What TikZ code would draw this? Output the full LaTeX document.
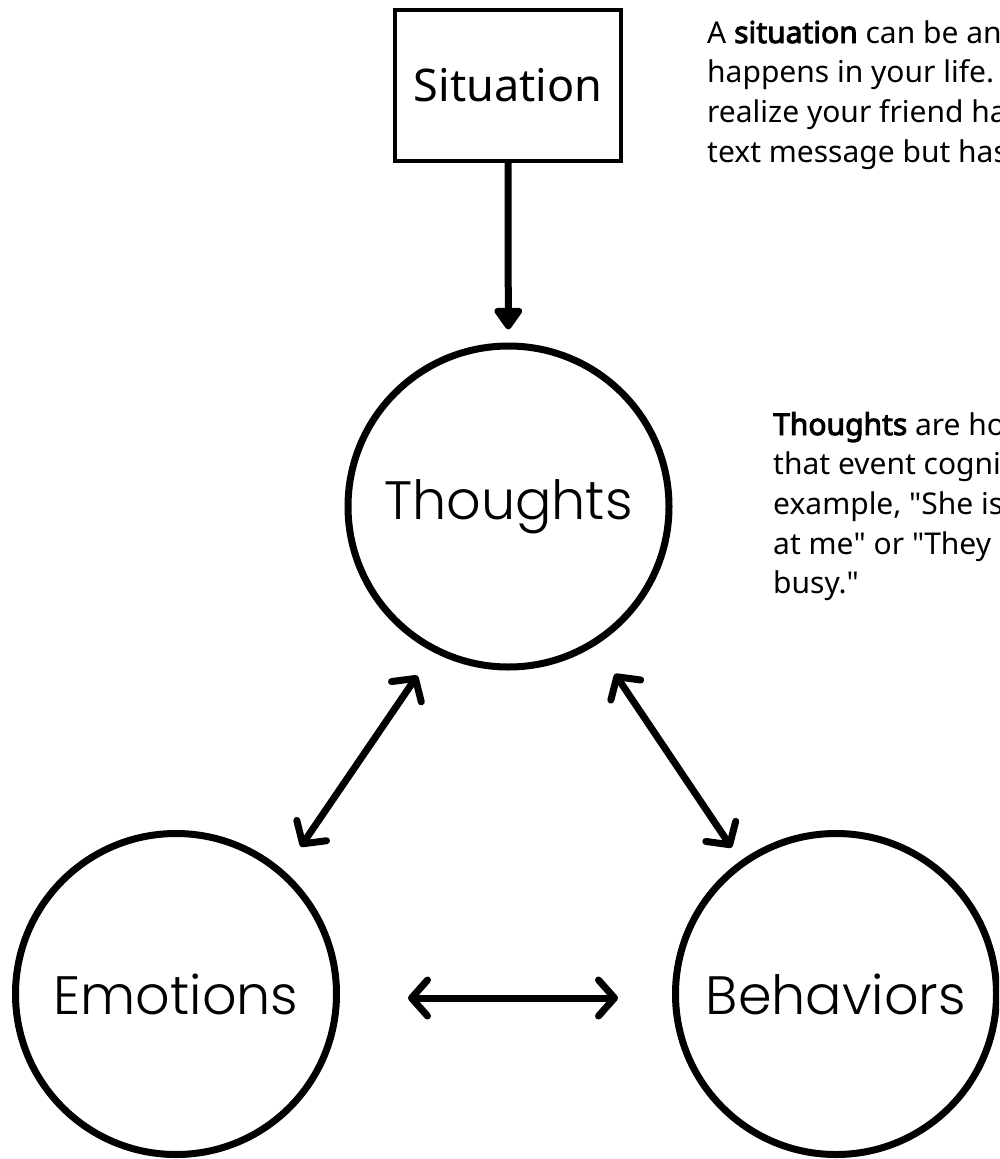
\documentclass[tikz,border=0pt]{standalone}
\usepackage{fontspec}
\setmainfont{Noto Sans}[BoldFont={Noto Sans},BoldFeatures={FakeBold=3.2}]
\newfontfamily\roundfont{Poppins Light}
\usetikzlibrary{arrows.meta,calc,positioning}

\begin{document}
\begin{tikzpicture}
  [
  x=1pt,y=1pt,
  stage/.style={circle,draw,line width=7pt,minimum size=321pt,inner sep=0pt,font=\roundfont\fontsize{54}{60}\selectfont},
  event/.style={rectangle,draw,line width=4pt,minimum width=226pt,minimum height=151pt,inner sep=0pt,font=\fontsize{45}{50}\selectfont},
  note/.style={anchor=north west,align=left,inner sep=0pt,font=\fontsize{30}{39.7}\selectfont},
  oneway/.style={-{Triangle[length=24pt,width=32pt,round]},line width=7pt},
  twoway/.style={{Straight Barb[length=16pt,width=36pt,round]}-{Straight Barb[length=16pt,width=36pt,round]},line width=7pt,line cap=round}
  ]
  \useasboundingbox (0,0) rectangle (999,-1159);
  \clip (0,0) rectangle (999,-1159);
  \node[event] (situation) at (508,-85.5) {Situation};
  \node[stage] (thoughts) at (508.5,-506.5) {Thoughts};
  \node[stage] (emotions) at (176,-994) {Emotions};
  \node[stage] (behaviors) at (836,-994) {Behaviors};
  % notes, cut by the right edge
  \node[note] (situation text) at (707,-20)
    {A \textbf{situation} can be an\\happens in your life.\\realize your friend has\\text message but has};
  \node[note] (thoughts text) at (773,-412)
    {\textbf{Thoughts} are how\\that event cognitively\\example, \textquotedbl She is\\at me\textquotedbl{} or \textquotedbl They\\busy.\textquotedbl};
  \draw[oneway,shorten >=13pt] (situation) -- (thoughts);
  \draw[twoway,shorten <=191pt,shorten >=192pt]
    ([shift={(16.5pt,-11.3pt)}]thoughts.center) -- ([shift={(16.5pt,-11.3pt)}]emotions.center);
  \draw[twoway,shorten <=198pt,shorten >=180pt]
    ([shift={(-4pt,-3pt)}]thoughts.center) -- ([shift={(-4pt,-3pt)}]behaviors.center);
  \draw[twoway,shorten <=232pt,shorten >=218pt]
    ([shift={(0pt,-4pt)}]emotions.center) -- ([shift={(0pt,-4pt)}]behaviors.center);
\end{tikzpicture}
\end{document}
